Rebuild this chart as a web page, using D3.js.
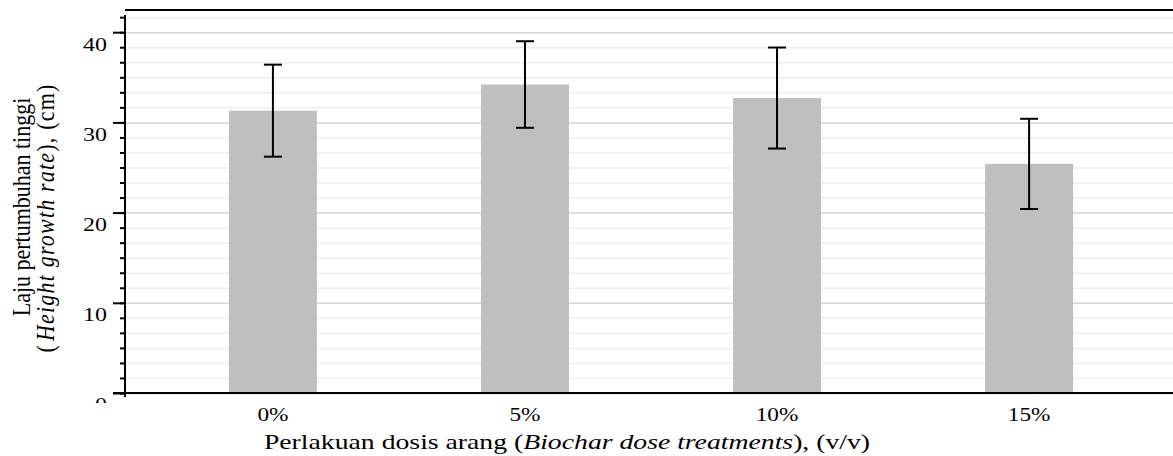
<!DOCTYPE html>
<html>
<head>
<meta charset="utf-8">
<script src="https://cdn.jsdelivr.net/npm/d3@7"></script>
<style>
    body { margin: 0; background: #ffffff; }
    svg { display: block; font-family: "Liberation Serif", "Times New Roman", serif; }
</style>
</head>
<body>
<div id="chart"></div>
<script>
// Data
let categories = ["0%", "5%", "10%", "15%"];
let means = [31.3, 34.2, 32.7, 25.4];
let errors = [5.1, 4.8, 5.6, 5.0];
let majorTicks = [0, 10, 20, 30, 40];

let width = 1173, height = 456;
let left = 125, right = 1173, bottom = 393;
let stretch = 1.26; // the source picture is wider than tall, text looks stretched

let svg = d3.select("#chart").append("svg")
    .attr("width", width)
    .attr("height", height);

// Scales
let y = d3.scaleLinear()
    .domain([0, 40])
    .range([bottom, 32.2]);

let x = d3.scaleBand()
    .domain(categories)
    .range([147, 1155])
    .paddingInner(0.651)
    .paddingOuter(0.325);

// minor ticks every 10/6 units, up to 25 steps
let minorTicks = d3.range(0, 26).map(i => i * 10 / 6);

// Gridlines (minor first, major on top)
svg.append("g")
    .attr("transform", `translate(${left},0)`)
    .call(d3.axisLeft(y).tickValues(minorTicks).tickSize(-(right - left)).tickFormat(""))
    .call(g => g.select(".domain").remove())
    .selectAll("line")
    .attr("stroke", "#eeeeee")
    .attr("stroke-width", 1.5);

svg.append("g")
    .attr("transform", `translate(${left},0)`)
    .call(d3.axisLeft(y).tickValues(majorTicks).tickSize(-(right - left)).tickFormat(""))
    .call(g => g.select(".domain").remove())
    .selectAll("line")
    .attr("stroke", "#d8d8d8")
    .attr("stroke-width", 1.5);

// Bars
svg.selectAll(".bar")
    .data(categories)
    .enter().append("rect")
    .attr("class", "bar")
    .attr("x", d => x(d))
    .attr("width", x.bandwidth())
    .attr("y", (d, i) => y(means[i]))
    .attr("height", (d, i) => y(0) - y(means[i]))
    .attr("fill", "#bfbfbf");

// Error bars
let errG = svg.selectAll(".err")
    .data(categories)
    .enter().append("g")
    .attr("class", "err")
    .attr("stroke", "#000")
    .attr("stroke-width", 2);

errG.append("line")
    .attr("x1", d => x(d) + x.bandwidth() / 2)
    .attr("x2", d => x(d) + x.bandwidth() / 2)
    .attr("y1", (d, i) => y(means[i] + errors[i]))
    .attr("y2", (d, i) => y(means[i] - errors[i]));

[1, -1].forEach(s => {
    errG.append("line")
        .attr("x1", d => x(d) + x.bandwidth() / 2 - 9)
        .attr("x2", d => x(d) + x.bandwidth() / 2 + 9)
        .attr("y1", (d, i) => y(means[i] + s * errors[i]))
        .attr("y2", (d, i) => y(means[i] + s * errors[i]));
});

// Top border
svg.append("line")
    .attr("x1", left).attr("x2", right)
    .attr("y1", 10).attr("y2", 10)
    .attr("stroke", "#000")
    .attr("stroke-width", 2);

// Y axis: minor ticks
svg.append("g")
    .attr("transform", `translate(${left},0)`)
    .call(d3.axisLeft(y).tickValues(minorTicks).tickSize(5).tickFormat(""))
    .call(g => g.select(".domain").remove())
    .selectAll("line")
    .attr("stroke", "#000")
    .attr("stroke-width", 2);

// Y axis: major ticks + labels (bottom "0" is cut off, as in the source)
svg.append("clipPath").attr("id", "yclip")
    .append("rect").attr("x", 0).attr("y", 0).attr("width", left + 20).attr("height", 403);

let yAxisG = svg.append("g")
    .attr("clip-path", "url(#yclip)")
    .append("g")
    .attr("transform", `translate(${left},0)`)
    .call(d3.axisLeft(y).tickValues(majorTicks).tickSize(12));

yAxisG.select(".domain").remove();
yAxisG.selectAll("line").attr("stroke", "#000").attr("stroke-width", 2);
yAxisG.selectAll("text")
    .attr("x", -18 / stretch)
    .attr("dy", "18")
    .attr("transform", `scale(${stretch},1)`)
    .attr("font-family", "Liberation Serif")
    .attr("font-size", 19)
    .attr("fill", "#000");

// Y axis line
svg.append("line")
    .attr("x1", left).attr("x2", left)
    .attr("y1", 15).attr("y2", 397)
    .attr("stroke", "#000")
    .attr("stroke-width", 2);

// X axis line
svg.append("line")
    .attr("x1", left - 12).attr("x2", right)
    .attr("y1", bottom).attr("y2", bottom)
    .attr("stroke", "#000")
    .attr("stroke-width", 2);

// X tick labels
svg.selectAll(".xlabel")
    .data(categories)
    .enter().append("text")
    .attr("class", "xlabel")
    .attr("transform", d => `translate(${x(d) + x.bandwidth() / 2},421) scale(${stretch},1)`)
    .attr("text-anchor", "middle")
    .style("font-size", "18.5px")
    .text(d => d);

// X axis title
let xt = svg.append("text")
    .attr("transform", `translate(567,449) scale(${stretch},1)`)
    .attr("text-anchor", "middle")
    .style("font-size", "22px");
xt.append("tspan").text("Perlakuan dosis arang (");
xt.append("tspan").style("font-style", "italic").text("Biochar dose treatments");
xt.append("tspan").text("), (v/v)");

// Y axis title (two lines)
svg.append("text")
    .attr("transform", `translate(30,207) scale(1.12,1) rotate(-90)`)
    .attr("text-anchor", "middle")
    .style("font-size", "22px")
    .text("Laju pertumbuhan tinggi");

let yt2 = svg.append("text")
    .attr("transform", `translate(54,218) scale(1.12,1) rotate(-90)`)
    .attr("text-anchor", "middle")
    .style("font-size", "22px")
    .style("letter-spacing", "1.2px");
yt2.append("tspan").text("(");
yt2.append("tspan").attr("dx", 3).style("font-style", "italic").text("Height growth rate");
yt2.append("tspan").text("), (cm)");
</script>
</body>
</html>
